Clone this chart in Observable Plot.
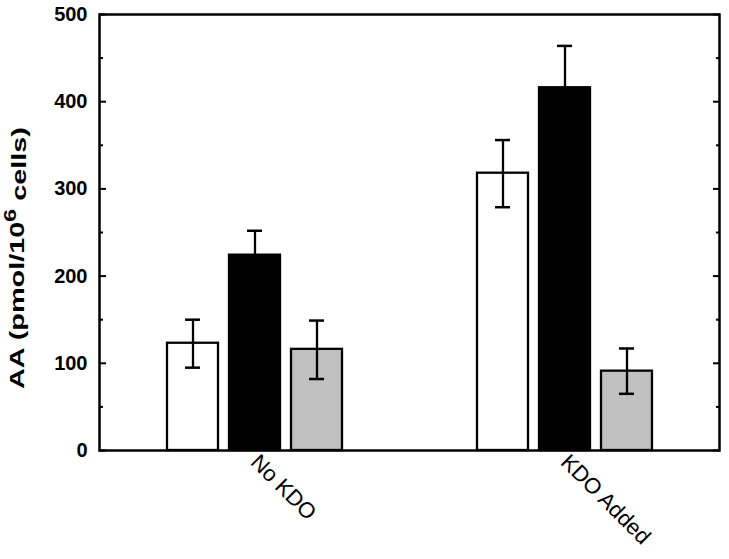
<!DOCTYPE html>
<html><head><meta charset="utf-8">
<script src="https://cdn.jsdelivr.net/npm/d3@7"></script>
<script src="https://cdn.jsdelivr.net/npm/@observablehq/plot@0.6"></script>
<style>body{margin:0;background:#fff}</style>
</head><body><div id="chart"></div>
<script>
const groups = ["No KDO", "KDO Added"];
const series = ["Series 1", "Series 2", "Series 3"];
const fills = ["#ffffff", "#000000", "#c0c0c0"];
const noKdoValues = [123, 224, 116];
const kdoValues = [318, 416, 91];
const noKdoErrLow = [95, 196, 82];
const noKdoErrHigh = [150, 252, 149];
const kdoErrLow = [279, 368, 65];
const kdoErrHigh = [356, 464, 117];
const majorTicks = [0, 100, 200, 300, 400, 500];
const minorTicks = [50, 150, 250, 350, 450];

const rows = [];
series.forEach((s, i) => {
  rows.push({group: groups[0], series: s, value: noKdoValues[i], lo: noKdoErrLow[i], hi: noKdoErrHigh[i]});
  rows.push({group: groups[1], series: s, value: kdoValues[i], lo: kdoErrLow[i], hi: kdoErrHigh[i]});
});

const chart = Plot.plot({
  width: 729, height: 559,
  marginLeft: 99, marginRight: 10, marginTop: 14, marginBottom: 109,
  style: {fontFamily: "'Liberation Sans', Arial, sans-serif", background: "white", color: "black"},
  fx: {domain: groups, padding: 0},
  x: {domain: series, paddingInner: 0.18, paddingOuter: 1.09, axis: null},
  y: {domain: [0, 500], axis: null},
  color: {domain: series, range: fills},
  marks: [
    Plot.barY(rows, {fx: "group", x: "series", y: "value", fill: "series", stroke: "black", strokeWidth: 2.3}),
    Plot.ruleX(rows, {fx: "group", x: "series", y1: "lo", y2: "hi", stroke: "black", strokeWidth: 2.3}),
    Plot.tickY(rows, {fx: "group", x: "series", y: "hi", insetLeft: 18, insetRight: 18, stroke: "black", strokeWidth: 2.5}),
    Plot.tickY(rows, {fx: "group", x: "series", y: "lo", insetLeft: 18, insetRight: 18, stroke: "black", strokeWidth: 2.5}),
    Plot.axisY({anchor: "left", ticks: majorTicks, tickSize: 0, tickPadding: 12, fontSize: 20, fontWeight: "bold"}),
    Plot.axisY({anchor: "left", ticks: majorTicks, tickSize: -7, tickFormat: () => "", strokeWidth: 2}),
    Plot.axisY({anchor: "left", ticks: minorTicks, tickSize: -4, tickFormat: () => "", strokeWidth: 2}),
    Plot.axisY({anchor: "right", ticks: majorTicks, tickSize: -7, tickFormat: () => "", strokeWidth: 2}),
    Plot.axisY({anchor: "right", ticks: minorTicks, tickSize: -4, tickFormat: () => "", strokeWidth: 2}),
    Plot.axisFx({anchor: "bottom", tickSize: 0, tickRotate: 45, tickPadding: 8, fontSize: 22, label: null}),
    Plot.frame({facet: "super", stroke: "black", strokeWidth: 2.5})
  ]
});

const svg = d3.select(chart);
const t = svg.append("text")
  .attr("transform", "translate(24,258) rotate(-90)")
  .attr("text-anchor", "middle")
  .attr("fill", "black")
  .attr("textLength", 262)
  .attr("lengthAdjust", "spacingAndGlyphs")
  .style("font-family", "'Liberation Sans', Arial, sans-serif")
  .style("font-weight", "bold")
  .style("font-size", "20px");
t.append("tspan").text("AA (pmol/10");
t.append("tspan").attr("dy", "-0.5em").style("font-size", "16px").text("6");
t.append("tspan").attr("dy", "0.5em").text(" cells)");

document.getElementById("chart").appendChild(chart);
</script>
</body></html>
